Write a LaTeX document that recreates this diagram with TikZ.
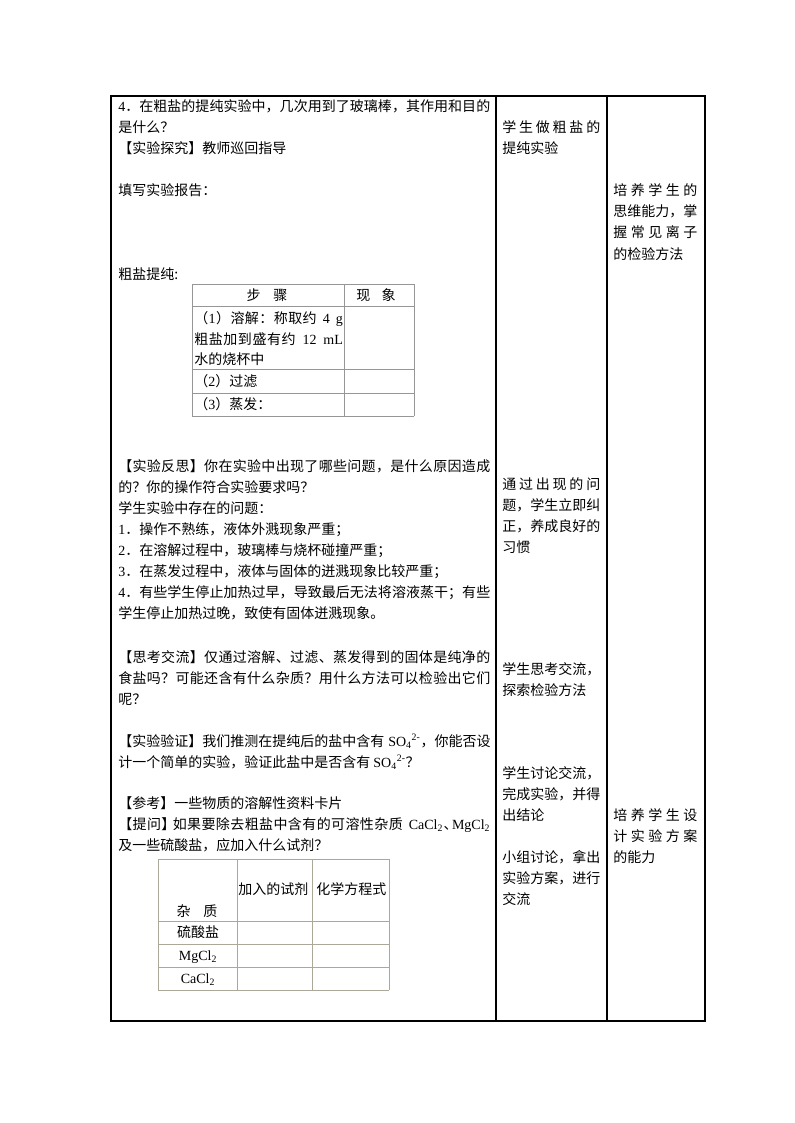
\documentclass[tikz,border=0pt]{standalone}
\usepackage{fontspec}
\setmainfont{Noto Sans CJK SC}
\newfontfamily\tms{Liberation Serif}

\definecolor{cellgray}{RGB}{150,150,150}
\definecolor{cellkhaki}{RGB}{172,168,153}

%spread the characters of a line over a given width
\ExplSyntaxOn
\NewDocumentCommand{\spreadto}{mm}{
  \hbox_to_wd:nn {#1} {
    \bool_set_false:N \l_tmpa_bool
    \tl_map_inline:nn {#2} {
      \bool_if:NT \l_tmpa_bool { \skip_horizontal:n {0pt plus 1fil} }
      \bool_set_true:N \l_tmpa_bool
      {##1}
    }
  }
}
\ExplSyntaxOff
\newcommand{\fullw}[1]{\spreadto{279pt}{#1}}
\newcommand{\colw}[1]{\spreadto{73.5pt}{#1}}
\newcommand{\aimw}[1]{\spreadto{63pt}{#1}}
\newcommand{\cellw}[1]{\spreadto{111.5pt}{#1}}
%a wider gap inside a spread line
\newcommand{\gap}{\hskip 3pt plus 3fil\relax}
%formulas
\newcommand{\so}{{\tms SO\textsubscript{4}\textsuperscript{2-}}}
\newcommand{\cacl}{{\tms CaCl\textsubscript{2}}}
\newcommand{\mgcl}{{\tms MgCl\textsubscript{2}}}

\tikzset{
  ln/.style={anchor=base west, inner sep=0pt, font=\fontsize{10.5pt}{15pt}\selectfont},
  lc/.style={anchor=base, inner sep=0pt, font=\fontsize{10.5pt}{15pt}\selectfont},
}

\begin{document}
\begin{tikzpicture}[x=0.75pt,y=-0.75pt]
	\useasboundingbox (0,0) rectangle (794,1123);
	
	%draw the outer table
	\draw[line width=0.8pt] (111,96) rectangle (705,1021);
	\foreach \x in {496,607}
	\draw[line width=0.8pt] (\x,96)--(\x,1021);
	
	%first column text
	\foreach \y/\t [count=\i] in {112/{\fullw{{\tms 4}．在粗盐的提纯实验中，几次用到了玻璃棒，其作用和目的}},
		133/{是什么？},154/{【实验探究】教师巡回指导},196/{填写实验报告：},279/{粗盐提纯:}}
	\node[ln] (pa\i) at (118,\y) {\t};
	
	\foreach \y/\t [count=\i] in {471/{\fullw{【实验反思】你在实验中出现了哪些问题，是什么原因造成}},
		492/{的？你的操作符合实验要求吗？},513/{学生实验中存在的问题：},
		534/{{\tms 1}．操作不熟练，液体外溅现象严重；},
		555/{{\tms 2}．在溶解过程中，玻璃棒与烧杯碰撞严重；},
		576/{{\tms 3}．在蒸发过程中，液体与固体的迸溅现象比较严重；},
		597/{\fullw{{\tms 4}．有些学生停止加热过早，导致最后无法将溶液蒸干；有些}},
		618/{学生停止加热过晚，致使有固体迸溅现象。}}
	\node[ln] (pb\i) at (118,\y) {\t};
	
	\foreach \y/\t [count=\i] in {662/{\fullw{【思考交流】仅通过溶解、过滤、蒸发得到的固体是纯净的}},
		683/{\fullw{食盐吗？可能还含有什么杂质？用什么方法可以检验出它们}},704/{呢？},
		746/{\fullw{【实验验证】我们推测在提纯后的盐中含有{\gap}\so，你能否设}},
		767/{计一个简单的实验，验证此盐中是否含有 \so？},
		808/{【参考】一些物质的溶解性资料卡片},
		829/{\fullw{【提问】{\hspace{-0.25em}}如果要除去粗盐中含有的可溶性杂质{\gap}\cacl、{\hspace{-0.45em}}\mgcl}},
		850/{及一些硫酸盐，应加入什么试剂？}}
	\node[ln] (pc\i) at (118,\y) {\t};
	
	%report table
	\foreach \y in {284,306,369,393,416}
	\draw[cellgray] (192,\y)--(414,\y);
	\foreach \x in {192,344,414}
	\draw[cellgray] (\x,284)--(\x,416);
	\node[lc] (stephead) at (267,300) {步\hspace{0.9em}骤};
	\node[lc] (seenhead) at (376,300) {现\hspace{0.8em}象};
	\node[ln] (stepa) at (194,323) {\cellw{（{\tms 1}）溶解：称取约{\gap}{\tms 4}{\gap}{\tms g}}};
	\node[ln] (stepb) at (194,344) {\cellw{粗盐加到盛有约{\gap}{\tms 12}{\gap}{\tms mL}}};
	\node[ln] (stepc) at (194,364) {水的烧杯中};
	\node[ln] (stepd) at (194,386) {（{\tms 2}）过滤};
	\node[ln] (stepe) at (194,409) {（{\tms 3}）蒸发：};
	
	%reagent table
	\foreach \y in {859,921,944,967,990}
	\draw[cellkhaki] (158,\y)--(389,\y);
	\foreach \x in {158,237,312,389}
	\draw[cellkhaki] (\x,859)--(\x,990);
	\node[lc] (imphead) at (197,916) {杂\hspace{0.9em}质};
	\node[ln] (addhead) at (238,894) {加入的试剂};
	\node[ln] (eqhead) at (316,894) {化学方程式};
	\foreach \y/\t [count=\i] in {937/{硫酸盐},960/{\mgcl},983/{\cacl}}
	\node[lc] (imp\i) at (198,\y) {\t};
	
	%second column text
	\foreach \y/\t [count=\i] in {133/{\colw{学生做粗盐的}},154/{提纯实验},
		489/{\colw{通过出现的问}},510/{题，学生立即纠},531/{正，养成良好的},552/{习惯},
		674/{学生思考交流，},695/{探索检验方法},
		778/{学生讨论交流，},799/{完成实验，并得},820/{出结论},
		862/{小组讨论，拿出},883/{实验方案，进行},904/{交流}}
	\node[ln] (act\i) at (502,\y) {\t};
	
	%third column text
	\foreach \y/\t [count=\i] in {196/{\aimw{培养学生的}},217/{思维能力，掌},
		238/{\aimw{握常见离子}},259/{的检验方法},
		820/{\aimw{培养学生设}},841/{\aimw{计实验方案}},862/{的能力}}
	\node[ln] (aim\i) at (613,\y) {\t};
\end{tikzpicture}
\end{document}
